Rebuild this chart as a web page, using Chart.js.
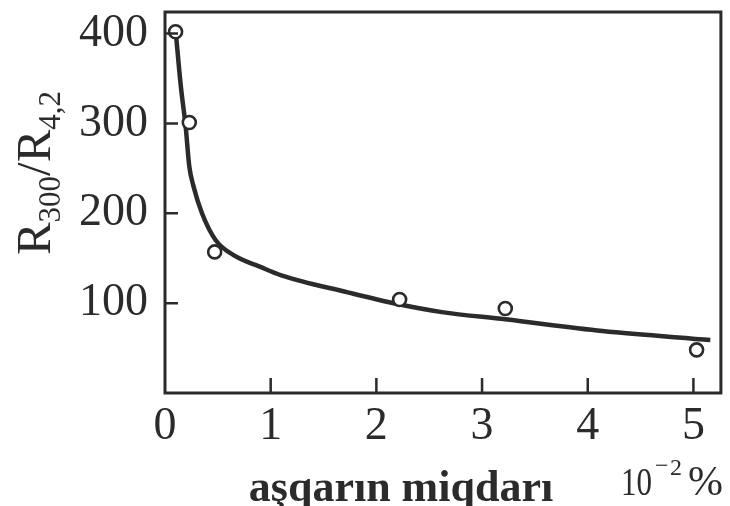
<!DOCTYPE html>
<html>
<head>
<meta charset="utf-8">
<script src="https://cdn.jsdelivr.net/npm/chart.js@4.4.0/dist/chart.umd.min.js"></script>
<style>
html,body{margin:0;padding:0;background:#fff;}
#wrap{width:730px;height:506px;}
</style>
</head>
<body>
<div id="wrap"><canvas id="c" width="730" height="506"></canvas></div>
<script>
// measured points (circles)
const pointX = [0.10, 0.23, 0.47, 2.22, 3.22, 5.03];
const pointY = [402, 301, 157, 104, 94, 48];
// fitted curve as drawn
const curveX = [0.10, 0.15, 0.195, 0.23, 0.27, 0.35, 0.48, 0.67, 0.89, 1.1, 1.73, 2.2, 2.62, 3.22, 4.14, 5.16];
const curveY = [404, 341, 297, 252, 230, 200, 170, 152, 141, 131, 112, 99, 90, 82, 69, 59];
// tick labels
const xTicks = [0, 1, 2, 3, 4, 5];
const yTicks = [100, 200, 300, 400];
const xTitle = 'aşqarın miqdarı';
const ink = '#2b2b2b';
const serif = '"Liberation Serif", "DejaVu Serif", serif';

const framePlugin = {
  id: 'frame',
  afterDraw(chart) {
    const {ctx, chartArea: a, scales} = chart;
    ctx.save();
    ctx.strokeStyle = ink;
    ctx.lineWidth = 3;
    ctx.strokeRect(a.left, a.top, a.right - a.left, a.bottom - a.top);
    ctx.lineWidth = 2.5;
    ctx.beginPath();
    yTicks.forEach(v => {
      const y = scales.y.getPixelForValue(v);
      ctx.moveTo(a.left, y); ctx.lineTo(a.left + 13, y);
    });
    xTicks.forEach(v => {
      const x = scales.x.getPixelForValue(v);
      if (v === 0) return;
      ctx.moveTo(x, a.bottom); ctx.lineTo(x, a.bottom - 15);
    });
    ctx.stroke();

    // y title with subscripts
    ctx.fillStyle = ink;
    ctx.translate(50, 173);
    ctx.rotate(-Math.PI / 2);
    ctx.textBaseline = 'alphabetic';
    const big = '49px ' + serif, small = '31px ' + serif;
    const parts = [['R', big, 0], ['300', small, 10], ['/R', big, 0], ['4,2', small, 10]];
    let total = 0;
    parts.forEach(p => { ctx.font = p[1]; total += ctx.measureText(p[0]).width; });
    let xx = -total / 2;
    parts.forEach(p => { ctx.font = p[1]; ctx.fillText(p[0], xx, p[2]); xx += ctx.measureText(p[0]).width; });
    ctx.setTransform(1, 0, 0, 1, 0, 0);

    // x title
    ctx.font = 'bold 44px ' + serif;
    ctx.textAlign = 'center';
    ctx.fillText(xTitle, 401, 501);
    ctx.textAlign = 'left';
    // unit 10^-2 %
    ctx.save();
    ctx.translate(621, 495);
    ctx.scale(1, 1.3);
    ctx.font = '31px ' + serif;
    ctx.fillText('10', 0, 0);
    ctx.restore();
    ctx.font = '24px ' + serif;
    ctx.fillText('\u2212', 655, 473);
    ctx.fillText('2', 670, 475);
    ctx.font = '42px ' + serif;
    ctx.fillText('%', 688, 495);
    ctx.restore();
  }
};

new Chart(document.getElementById('c'), {
  type: 'scatter',
  data: {
    datasets: [
      {
        data: pointX.map((x, i) => ({x, y: pointY[i]})),
        pointRadius: 6.5,
        pointBorderWidth: 2.6,
        borderWidth: 2.6,
        pointBorderColor: ink,
        borderColor: ink,
        pointBackgroundColor: '#fff',
        backgroundColor: '#fff'
      },
      {
        type: 'line',
        data: curveX.map((x, i) => ({x, y: curveY[i]})),
        borderColor: ink,
        borderWidth: 4.5,
        pointRadius: 0,
        fill: false,
        cubicInterpolationMode: 'monotone'
      }
    ]
  },
  options: {
    responsive: false,
    animation: false,
    layout: {padding: {top: 12, right: 6, left: 0, bottom: 0}},
    plugins: {legend: {display: false}, tooltip: {enabled: false}},
    scales: {
      x: {
        type: 'linear', min: 0, max: 5.26,
        afterBuildTicks: s => { s.ticks = xTicks.map(v => ({value: v})); },
        afterFit: s => { s.height = 113; s.paddingLeft = 0; s.paddingRight = 0; },
        grid: {display: false, drawTicks: false, tickLength: 0}, border: {display: false},
        ticks: {font: {family: serif, size: 46}, color: ink, padding: 6, maxRotation: 0, autoSkip: false}
      },
      y: {
        type: 'linear', min: 0, max: 424,
        afterBuildTicks: s => { s.ticks = yTicks.map(v => ({value: v})); },
        afterFit: s => { s.width = 165; s.paddingTop = 0; s.paddingBottom = 0; },
        grid: {display: false, drawTicks: false, tickLength: 0}, border: {display: false},
        ticks: {font: {family: serif, size: 46}, color: ink, padding: 17}
      }
    }
  },
  plugins: [framePlugin]
});
</script>
</body>
</html>
